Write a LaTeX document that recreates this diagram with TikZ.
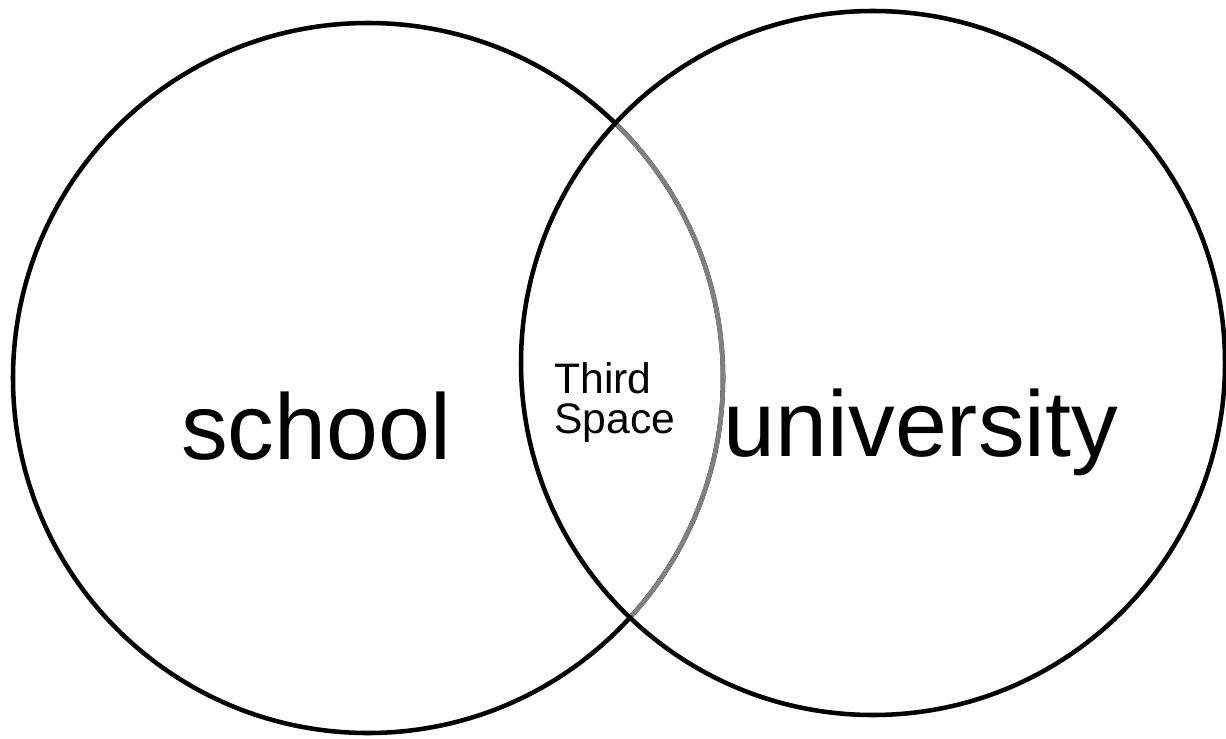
\documentclass[tikz,border=0pt]{standalone}
\usepackage{fontspec}
\setmainfont{Liberation Sans}
\usepackage{tikz}
\usetikzlibrary{positioning}
\definecolor{lenscol}{RGB}{128,128,128}

\begin{document}
\begin{tikzpicture}[x=0.75pt, y=-0.75pt,
  ring/.style={circle, draw=black, line width=3.4pt, inner sep=0pt, minimum size=#1},
  lbl/.style={font=\fontsize{70pt}{70pt}\selectfont, text=black, inner sep=0pt, anchor=base},
  small/.style={font=\fontsize{32pt}{30pt}\selectfont, align=left, inner sep=0pt}
]
\useasboundingbox (0,0) rectangle (1226,738);

\node[ring=532.5pt] (school) at (368,378) {};

% part of the school ring inside the university ring is grey
\begin{scope}
  \clip (873,363) circle (264pt);
  \node[ring=532.5pt, draw=lenscol] (lens) at (368,378) {};
\end{scope}

\node[ring=528pt] (univ) at (873,363) {};

\node[lbl] (schooltxt) at (316,459) {school};
\node[lbl] (univtxt) at (921,456) {university};
\node[small] (third) at (615,402) {Third\\Space};

\end{tikzpicture}
\end{document}
